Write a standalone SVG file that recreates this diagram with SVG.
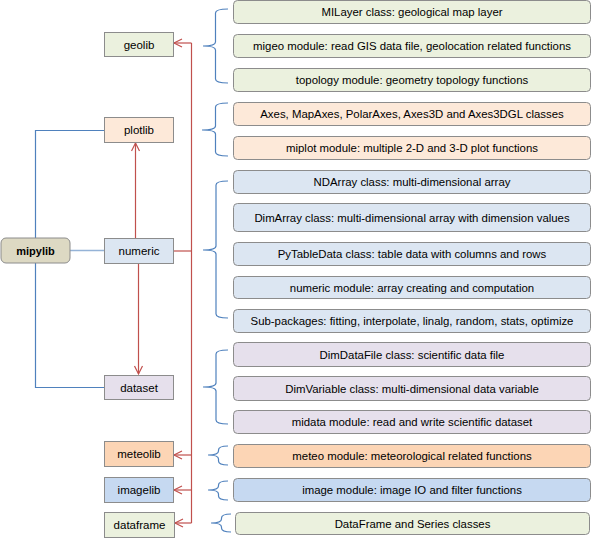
<svg xmlns="http://www.w3.org/2000/svg" width="593" height="540" viewBox="0 0 593 540">
<style>
text{font-family:"Liberation Sans",Arial,sans-serif;fill:#000;text-anchor:middle}
.lt{font-size:11.5px}
.rt{font-size:11.4px}
.nd{stroke:#8c8c8c;stroke-width:1}
.it{stroke:#8c8c8c;stroke-width:1}
.br{fill:none;stroke:#4f81bd;stroke-width:1.2}
.red{fill:none;stroke:#c0504d;stroke-width:1.2}
.blu{fill:none;stroke:#4f81bd;stroke-width:1.2}
.g{fill:#ebf1de}.o{fill:#fde9d9}.b{fill:#dce6f2}.p{fill:#e6e0ec}.oo{fill:#fcd5b5}.bb{fill:#c6d9f1}
</style>
<defs>
<marker id="ar" markerUnits="userSpaceOnUse" markerWidth="12" markerHeight="12" refX="9" refY="5" orient="auto">
<path d="M1,1 L9,5 L1,9" fill="none" stroke="#c0504d" stroke-width="1.2"/>
</marker>
</defs>
<rect width="593" height="540" fill="#fff"/>
<g id="connectors">
<path class="blu" d="M104,130.5 H35.5 V387.5 H104"/>
<path d="M70,250.5 H104" fill="none" stroke="#95b3d7" stroke-width="1.5"/>
<path class="red" d="M135.5,238 V143" marker-end="url(#ar)"/>
<path class="red" d="M138.5,263 V374" marker-end="url(#ar)"/>
<path class="red" d="M173,251 H191.5"/>
<path class="red" d="M191.5,43 V523"/>
<path class="red" d="M191.5,43 H174" marker-end="url(#ar)"/>
<path class="red" d="M191.5,455 H174" marker-end="url(#ar)"/>
<path class="red" d="M191.5,490 H174" marker-end="url(#ar)"/>
<path class="red" d="M191.5,523 H175" marker-end="url(#ar)"/>
<path class="br" d="M228,9 Q215.5,9 215.5,13 L215.5,42 Q215.5,46 203,46 Q215.5,46 215.5,50 L215.5,79 Q215.5,83 228,83"/>
<path class="br" d="M228,103 Q215.5,103 215.5,107 L215.5,126 Q215.5,130 202,130 Q215.5,130 215.5,134 L215.5,152 Q215.5,156 228,156"/>
<path class="br" d="M228,181 Q216,181 216,185 L216,246 Q216,250 203,250 Q216,250 216,254 L216,314 Q216,318 228,318"/>
<path class="br" d="M228,350 Q216,350 216,354 L216,383 Q216,387 203,387 Q216,387 216,391 L216,420 Q216,424 228,424"/>
<path class="br" d="M228,446 Q218.5,446 218.5,450 L218.5,451 Q218.5,455 208,455 Q218.5,455 218.5,459 L218.5,461 Q218.5,465 228,465"/>
<path class="br" d="M228,481 Q218.5,481 218.5,485 L218.5,486 Q218.5,490 208,490 Q218.5,490 218.5,494 L218.5,496 Q218.5,500 228,500"/>
<path class="br" d="M231,514 Q221.5,514 221.5,518 L221.5,519 Q221.5,523 211,523 Q221.5,523 221.5,527 L221.5,528 Q221.5,532 231,532"/>
</g>
<g id="mipylib"><rect x="1" y="238" width="69" height="25" rx="5" fill="#ddd9c3" stroke="#8c8c8c"/><text x="35.5" y="254.5" font-size="11" font-weight="bold">mipylib</text></g>
<g id="geolib"><rect class="nd g" x="104.5" y="32.5" width="69" height="24"/><text class="lt" x="139" y="48.5">geolib</text></g>
<g id="plotlib"><rect class="nd o" x="104.5" y="117.5" width="69" height="25"/><text class="lt" x="139" y="134">plotlib</text></g>
<g id="numeric"><rect class="nd b" x="104.5" y="238.5" width="69" height="25"/><text class="lt" x="139" y="255">numeric</text></g>
<g id="dataset"><rect class="nd p" x="104.5" y="375.5" width="69" height="24"/><text class="lt" x="139" y="391.5">dataset</text></g>
<g id="meteolib"><rect class="nd oo" x="104.5" y="441.5" width="69" height="25"/><text class="lt" x="139" y="458">meteolib</text></g>
<g id="imagelib"><rect class="nd bb" x="104.5" y="477.5" width="69" height="25"/><text class="lt" x="139" y="494">imagelib</text></g>
<g id="dataframe"><rect class="nd g" x="104.5" y="512.5" width="70" height="25"/><text class="lt" x="139.5" y="529">dataframe</text></g>
<g id="milayer"><rect class="it g" x="233.5" y="0.5" width="357" height="23" rx="4"/><text class="rt" x="412" y="16">MILayer class: geological map layer</text></g>
<g id="migeo"><rect class="it g" x="233.5" y="34.5" width="357" height="23" rx="4"/><text class="rt" x="412" y="50">migeo module: read GIS data file, geolocation related functions</text></g>
<g id="topology"><rect class="it g" x="233.5" y="68.5" width="357" height="23" rx="4"/><text class="rt" x="412" y="84">topology module: geometry topology functions</text></g>
<g id="axes"><rect class="it o" x="233.5" y="102.5" width="357" height="23" rx="4"/><text class="rt" x="412" y="118">Axes, MapAxes, PolarAxes, Axes3D and Axes3DGL classes</text></g>
<g id="miplot"><rect class="it o" x="233.5" y="136.5" width="357" height="23" rx="4"/><text class="rt" x="412" y="152">miplot module: multiple 2-D and 3-D plot functions</text></g>
<g id="ndarray"><rect class="it b" x="233.5" y="170.5" width="357" height="23" rx="4"/><text class="rt" x="412" y="186">NDArray class: multi-dimensional array</text></g>
<g id="dimarray"><rect class="it b" x="233.5" y="203.5" width="357" height="28" rx="4"/><text class="rt" x="412" y="221.5">DimArray class: multi-dimensional array with dimension values</text></g>
<g id="pytabledata"><rect class="it b" x="233.5" y="242.5" width="357" height="23" rx="4"/><text class="rt" x="412" y="258">PyTableData class: table data with columns and rows</text></g>
<g id="numericmod"><rect class="it b" x="233.5" y="276.5" width="357" height="22" rx="4"/><text class="rt" x="412" y="291.5">numeric module: array creating and computation</text></g>
<g id="subpackages"><rect class="it b" x="233.5" y="309.5" width="357" height="23" rx="4"/><text class="rt" x="412" y="325">Sub-packages: fitting, interpolate, linalg, random, stats, optimize</text></g>
<g id="dimdatafile"><rect class="it p" x="233.5" y="342.5" width="357" height="24" rx="4"/><text class="rt" x="412" y="358.5">DimDataFile class: scientific data file</text></g>
<g id="dimvariable"><rect class="it p" x="233.5" y="376.5" width="357" height="24" rx="4"/><text class="rt" x="412" y="392.5">DimVariable class: multi-dimensional data variable</text></g>
<g id="midata"><rect class="it p" x="233.5" y="410.5" width="357" height="23" rx="4"/><text class="rt" x="412" y="426">midata module: read and write scientific dataset</text></g>
<g id="meteo"><rect class="it oo" x="233.5" y="444.5" width="357" height="23" rx="4"/><text class="rt" x="412" y="460">meteo module: meteorological related functions</text></g>
<g id="image"><rect class="it bb" x="233.5" y="478.5" width="357" height="23" rx="4"/><text class="rt" x="412" y="494">image module: image IO and filter functions</text></g>
<g id="dataframemod"><rect class="it g" x="235.5" y="512.5" width="354" height="22" rx="4"/><text class="rt" x="412.5" y="527.5">DataFrame and Series classes</text></g>
</svg>
